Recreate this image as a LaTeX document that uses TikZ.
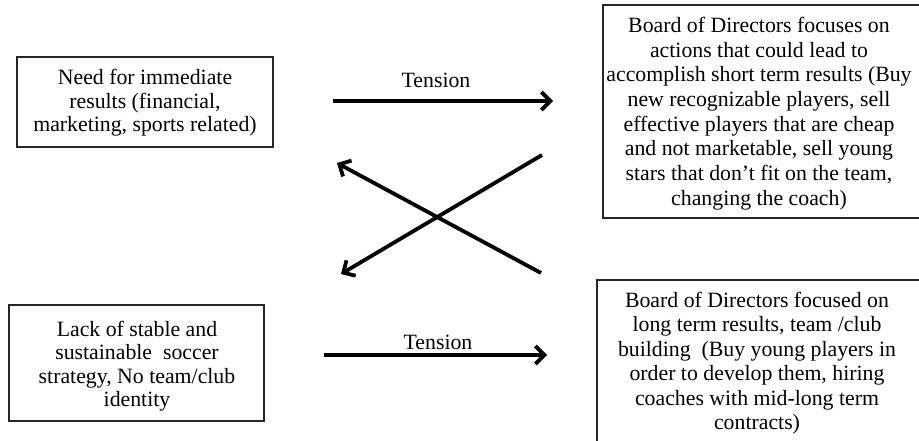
\documentclass[tikz,border=0pt]{standalone}
\usepackage{fontspec}
\setmainfont{Liberation Serif}
\usetikzlibrary{arrows.meta}
\begin{document}
\begin{tikzpicture}[x=1pt,y=-1pt,
  box/.style={draw=black!85,line width=1.3pt,inner sep=0pt,rectangle},
  txt/.style={align=center,inner sep=0pt,font=\fontsize{21.8}{23.5}\selectfont},
  lbl/.style={inner sep=0pt,font=\fontsize{21.8}{24}\selectfont},
  arr/.style={line width=3.8pt,-{Straight Barb[length=9pt,width=18pt,line width=3.8pt]}}]
\useasboundingbox (0,0) rectangle (919,441);
\clip (0,0) rectangle (919,441);
% boxes
\node[box,minimum width=256pt,minimum height=90pt] (boxA) at (145,102) {};
\node[box,minimum width=327pt,minimum height=213pt] (boxB) at (766.5,111.5) {};
\node[box,minimum width=255pt,minimum height=116pt] (boxC) at (136.5,363) {};
\node[box,minimum width=333pt,minimum height=180pt] (boxD) at (763.5,370) {};
% texts
\node[txt] (tA) at (145,103) {Need for immediate\\results (financial,\\marketing, sports related)};
\node[txt,font=\fontsize{21.8}{24.7}\selectfont] (tB) at (759,113.5) {Board of Directors focuses on\\actions that could lead to\\accomplish short term results (Buy\\new recognizable players, sell\\effective players that are cheap\\and not marketable, sell young\\stars that don’t fit on the team,\\changing the coach)};
\node[txt] (tC) at (137,366) {Lack of stable and\\sustainable\ \ soccer\\strategy, No team/club\\identity};
\node[txt,font=\fontsize{21.8}{24.5}\selectfont] (tD) at (757,363) {Board of Directors focused on\\long term results, team /club\\building\ \ (Buy young players in\\order to develop them, hiring\\coaches with mid-long term\\contracts)};
% arrows
\coordinate (a1s) at (333,101);
\coordinate (a1e) at (553,101);
\coordinate (a2s) at (324,355);
\coordinate (a2e) at (547,355);
\coordinate (x1s) at (541,273);
\coordinate (x1e) at (337,163);
\coordinate (x2s) at (542,155);
\coordinate (x2e) at (341,274);
\draw[arr] (a1s) -- (a1e);
\draw[arr] (a2s) -- (a2e);
\draw[arr] (x1s) -- (x1e);
\draw[arr] (x2s) -- (x2e);
\node[lbl] (l1) at (436,80) {Tension};
\node[lbl] (l2) at (438,342) {Tension};
\end{tikzpicture}
\end{document}
